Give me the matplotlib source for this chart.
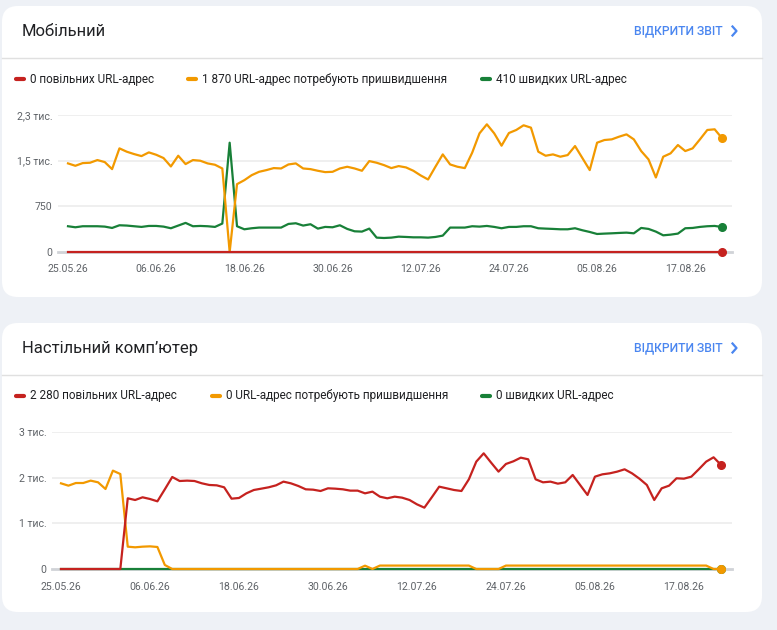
import matplotlib
matplotlib.use("Agg")
import matplotlib.pyplot as plt
import matplotlib.transforms as mtransforms
from matplotlib.patches import FancyBboxPatch
from matplotlib.lines import Line2D
import numpy as np

plt.rcParams['font.family'] = ['Roboto', 'DejaVu Sans']

# --- data (daily, 25.05.26 .. 22.08.26) ---
date_labels = ["25.05.26", "06.06.26", "18.06.26", "30.06.26",
               "12.07.26", "24.07.26", "05.08.26", "17.08.26"]

mob_slow = [0, 0, 0, 0, 0, 0, 0, 0, 0, 0, 0, 0, 0, 0, 0,
            0, 0, 0, 0, 0, 0, 0, 0, 0, 0, 0, 0, 0, 0, 0,
            0, 0, 0, 0, 0, 0, 0, 0, 0, 0, 0, 0, 0, 0, 0,
            0, 0, 0, 0, 0, 0, 0, 0, 0, 0, 0, 0, 0, 0, 0,
            0, 0, 0, 0, 0, 0, 0, 0, 0, 0, 0, 0, 0, 0, 0,
            0, 0, 0, 0, 0, 0, 0, 0, 0, 0, 0, 0, 0, 0, 0]
mob_need = [1455, 1416, 1460, 1466, 1510, 1477, 1361, 1702, 1647, 1608, 1575, 1636, 1597, 1543, 1405,
            1581, 1444, 1510, 1499, 1455, 1433, 1372, 0, 1114, 1180, 1262, 1317, 1345, 1378, 1372,
            1438, 1455, 1372, 1361, 1334, 1312, 1317, 1372, 1400, 1372, 1334, 1493, 1466, 1427, 1378,
            1411, 1389, 1334, 1257, 1191, 1400, 1603, 1438, 1400, 1378, 1630, 1949, 2097, 1949, 1746,
            1954, 2004, 2081, 2042, 1647, 1581, 1603, 1565, 1592, 1740, 1543, 1345, 1795, 1839, 1850,
            1894, 1932, 1850, 1658, 1521, 1224, 1565, 1620, 1757, 1658, 1702, 1850, 2004, 2015, 1870]
mob_fast = [423, 406, 423, 423, 423, 417, 395, 439, 434, 423, 412, 428, 428, 417, 390,
            434, 478, 423, 428, 423, 412, 467, 1795, 423, 373, 390, 401, 401, 401, 401,
            461, 472, 434, 456, 384, 412, 406, 439, 379, 340, 335, 384, 236, 230, 236,
            252, 247, 241, 241, 236, 247, 269, 401, 401, 401, 423, 417, 428, 412, 390,
            412, 412, 423, 423, 390, 384, 379, 373, 373, 390, 357, 329, 296, 302, 307,
            313, 318, 307, 395, 379, 335, 274, 285, 302, 390, 395, 412, 423, 428, 410]

desk_slow = [0, 0, 0, 0, 0, 0, 0, 0, 0, 1548, 1511, 1570, 1533, 1482, 1745,
             2015, 1927, 1935, 1927, 1876, 1840, 1832, 1789, 1540, 1555, 1657, 1730, 1759, 1789, 1832,
             1913, 1876, 1818, 1745, 1737, 1708, 1767, 1759, 1745, 1716, 1716, 1657, 1694, 1584, 1548,
             1584, 1562, 1511, 1416, 1343, 1570, 1803, 1767, 1730, 1708, 1964, 2351, 2533, 2329, 2132,
             2300, 2358, 2438, 2402, 1964, 1898, 1913, 1869, 1898, 2059, 1840, 1621, 2022, 2073, 2095,
             2132, 2183, 2095, 1978, 1840, 1511, 1767, 1825, 1986, 1978, 2022, 2183, 2351, 2446, 2280]
desk_need = [1876, 1825, 1883, 1883, 1935, 1898, 1752, 2154, 2080, 489, 475, 489, 496, 482, 88,
             0, 0, 0, 0, 0, 0, 0, 0, 0, 0, 0, 0, 0, 0, 0,
             0, 0, 0, 0, 0, 0, 0, 0, 0, 0, 0, 73, 0, 75, 75,
             75, 75, 75, 75, 75, 75, 75, 75, 75, 75, 75, 0, 0, 0, 0,
             75, 75, 75, 75, 75, 75, 75, 75, 75, 75, 75, 75, 75, 75, 75,
             75, 75, 75, 75, 75, 75, 75, 75, 75, 75, 75, 75, 75, 0, 0]
desk_fast = [0, 0, 0, 0, 0, 0, 0, 0, 0, 0, 0, 0, 0, 0, 0,
             0, 0, 0, 0, 0, 0, 0, 0, 0, 0, 0, 0, 0, 0, 0,
             0, 0, 0, 0, 0, 0, 0, 0, 0, 0, 0, 0, 0, 0, 0,
             0, 0, 0, 0, 0, 0, 0, 0, 0, 0, 0, 0, 0, 0, 0,
             0, 0, 0, 0, 0, 0, 0, 0, 0, 0, 0, 0, 0, 0, 0,
             0, 0, 0, 0, 0, 0, 0, 0, 0, 0, 0, 0, 0, 0, 0]

mob_legend = ["0 повільних URL-адрес", "1 870 URL-адрес потребують пришвидшення", "410 швидких URL-адрес"]
desk_legend = ["2 280 повільних URL-адрес", "0 URL-адрес потребують пришвидшення", "0 швидких URL-адрес"]
mob_yticks = [0, 750, 1500, 2250]
mob_ylabels = ["0", "750", "1,5 тис.", "2,3 тис."]
desk_yticks = [0, 1000, 2000, 3000]
desk_ylabels = ["0", "1 тис.", "2 тис.", "3 тис."]

RED = "#c5221f"
ORANGE = "#f29900"
GREEN = "#188038"
W, H = 777, 630

fig = plt.figure(figsize=(W / 100, H / 100), dpi=100)
fig.patch.set_facecolor("#eef1f6")
ident = mtransforms.IdentityTransform()


def card(top, bottom, title, legend, leg_x):
    fig.add_artist(FancyBboxPatch((2, H - bottom), 760, bottom - top,
                                  boxstyle="round,pad=0,rounding_size=16",
                                  fc="white", ec="none", transform=ident, zorder=-5))
    fig.add_artist(Line2D([2, 762], [H - top - 52, H - top - 52], color="#e0e0e0",
                          lw=1, transform=ident, zorder=-4))
    fig.text(22 / W, 1 - (top + 26) / H, title, fontsize=12, color="#202124", va="center")
    fig.text(634 / W, 1 - (top + 25) / H, "ВІДКРИТИ ЗВІТ", fontsize=8.7, color="#4a86f0",
             va="center", fontweight="medium")
    fig.add_artist(Line2D([732.5, 736.5, 732.5], [H - top - 20.5, H - top - 25, H - top - 29.5],
                          color="#4a86f0", lw=1.6, transform=ident))
    for txt, c, lx in zip(legend, [RED, ORANGE, GREEN], leg_x):
        yy = H - top - 73
        fig.add_artist(Line2D([lx - 14, lx - 6], [yy, yy], color=c, lw=3,
                              solid_capstyle="round", transform=ident))
        fig.text(lx / W, yy / H, txt, fontsize=8.5, color="#202124", va="center")


def chart(left, right, y0, ytop, first, last, slow, need, fast, yticks, ylabels):
    ax = fig.add_axes([left / W, 1 - y0 / H, (right - left) / W, (y0 - ytop) / H])
    ax.set_zorder(3)
    x = np.arange(len(slow))
    n = len(slow) - 1
    step = (last - first) / n
    ax.set_xlim(-(first - left) / step, n + (right - last) / step)
    ax.set_ylim(0, yticks[-1])
    ax.set_facecolor("none")
    for s in ax.spines.values():
        s.set_visible(False)
    for t in yticks[1:]:
        ax.axhline(t, color="#ececec", lw=1.2, zorder=0)
    ax.axhline(0, color="#d0d3d7", lw=2, zorder=0, clip_on=False)
    for series, c in [(fast, GREEN), (need, ORANGE), (slow, RED)]:
        ax.plot(x, series, color=c, lw=1.6, clip_on=False, solid_joinstyle="round")
        ax.plot(x[-1], series[-1], "o", color=c, ms=5.5, clip_on=False)
    ax.set_yticks(yticks)
    ax.set_yticklabels(ylabels)
    ax.set_xticks(x[::12])
    ax.set_xticklabels(date_labels)
    ax.tick_params(length=0, labelsize=7.6, labelcolor="#5f6368")
    ax.tick_params(axis="y", pad=4)
    ax.tick_params(axis="x", pad=9)
    return ax


card(6, 297, "Мобільний", mob_legend, [30, 202, 496])
card(323, 612, "Настільний комп’ютер", desk_legend, [30, 226, 496])

chart(58, 732, 252, 115, 68, 722, mob_slow, mob_need, mob_fast, mob_yticks, mob_ylabels)
chart(52, 732, 569, 432, 61, 721, desk_slow, desk_need, desk_fast, desk_yticks, desk_ylabels)

fig.savefig("out.png", dpi=100, facecolor=fig.get_facecolor())
